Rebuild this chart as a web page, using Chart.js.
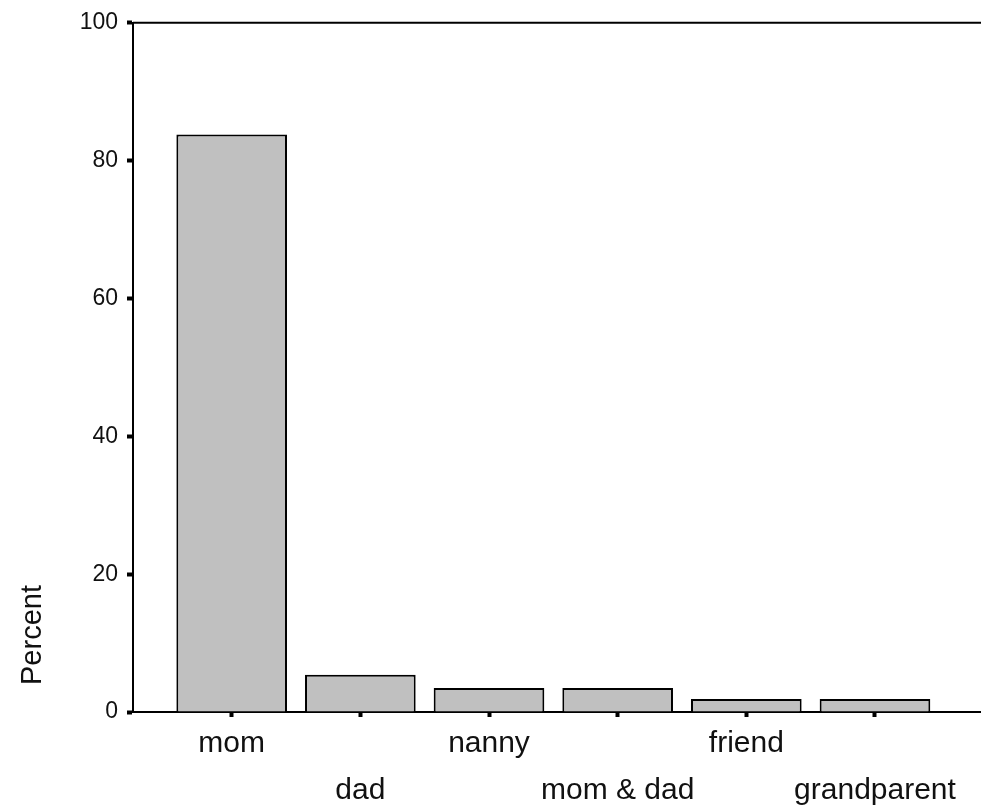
<!DOCTYPE html>
<html>
<head>
<meta charset="utf-8">
<script src="https://cdn.jsdelivr.net/npm/chart.js@4/dist/chart.umd.min.js"></script>
<style>
  body { margin: 0; background: #fff; }
</style>
</head>
<body>
<canvas id="chart" width="981" height="808"></canvas>
<script>
const categories = ["mom", "dad", "nanny", "mom & dad", "friend", "grandparent"];
const percents = [83.8, 5.4, 3.5, 3.5, 1.9, 1.9];
const yTickValues = [0, 20, 40, 60, 80, 100];
const yTitle = "Percent";

const FONT = "'Liberation Sans', Arial, sans-serif";

// draws the top frame line and the y title lower down the axis
const framePlugin = {
  id: "frame",
  afterDraw(chart) {
    const { ctx, chartArea } = chart;
    ctx.save();
    ctx.strokeStyle = "#000";
    ctx.lineWidth = 2;
    ctx.beginPath();
    ctx.moveTo(chartArea.left, chartArea.top);
    ctx.lineTo(chart.width, chartArea.top);
    ctx.stroke();

    ctx.translate(33, 635);
    ctx.rotate(-Math.PI / 2);
    ctx.font = "29px " + FONT;
    ctx.fillStyle = "#111";
    ctx.textAlign = "center";
    ctx.textBaseline = "middle";
    ctx.fillText(yTitle, 0, 0);
    ctx.restore();
  },
};

new Chart(document.getElementById("chart"), {
  type: "bar",
  data: {
    datasets: [
      {
        data: percents.map((p, i) => ({ x: i, y: p })),
        backgroundColor: "#c0c0c0",
        borderColor: "#000",
        borderWidth: 2,
        categoryPercentage: 1,
        barPercentage: 0.86,
      },
    ],
  },
  options: {
    responsive: false,
    animation: false,
    layout: { padding: { top: 22, left: 0, right: 0, bottom: 0 } },
    plugins: { legend: { display: false }, tooltip: { enabled: false } },
    scales: {
      x: {
        type: "linear",
        offset: false,
        min: -0.767,
        max: 5.824,
        afterBuildTicks(scale) {
          scale.ticks = categories.map((c, i) => ({ value: i }));
        },
        afterFit(scale) {
          scale.height = 96;
        },
        ticks: {
          autoSkip: false,
          maxRotation: 0,
          padding: 3,
          color: "#111",
          font: { family: FONT, size: 30, lineHeight: 1.57 },
          callback: (value) => {
            const name = categories[value];
            return value % 2 === 0 ? name : ["", name];
          },
        },
        grid: {
          offset: false,
          drawOnChartArea: false,
          tickLength: 5,
          tickWidth: 4,
          color: "#000",
        },
        border: { color: "#000", width: 2 },
      },
      y: {
        min: 0,
        max: 100,
        afterBuildTicks(scale) {
          scale.ticks = yTickValues.map((v) => ({ value: v }));
        },
        afterFit(scale) {
          scale.width = 133;
        },
        ticks: {
          padding: 9,
          color: "#111",
          font: { family: FONT, size: 23 },
        },
        grid: {
          drawOnChartArea: false,
          tickLength: 6,
          tickWidth: 4,
          color: "#000",
        },
        border: { color: "#000", width: 2 },
      },
    },
  },
  plugins: [framePlugin],
});
</script>
</body>
</html>
